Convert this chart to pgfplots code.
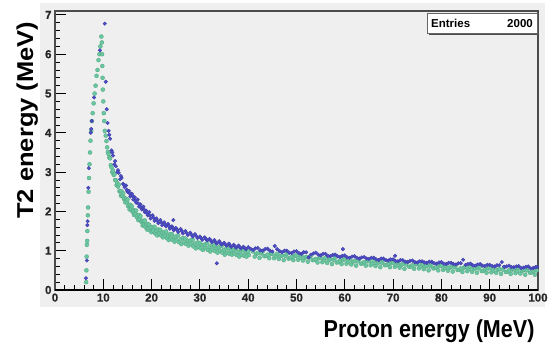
\documentclass[border=0pt]{standalone}
\usepackage{pgfplots}
\pgfplotsset{compat=1.18}
\usepackage{pgfplotstable}
\usepackage{fontspec}
\setmainfont{Liberation Sans}
\newfontfamily\tickfont{Liberation Sans Bold}[FakeBold=0.8]
\definecolor{panelgray}{RGB}{239,239,239}
\definecolor{bluept}{RGB}{78,78,205}
\definecolor{greenpt}{RGB}{105,200,160}

\pgfplotstableread[row sep=\\]{
x y\\
6.4 0.3\\ 6.6 0.75\\ 6.7 1.65\\ 6.75 1.75\\ 6.9 2.6\\ 7.0 3.1\\ 7.4 4.0\\ 7.5 4.1\\ 7.6 4.3\\ 8.1 4.9\\ 9.3 6.1\\
10.3 6.78\\ 10.5 5.3\\ 10.7 4.6\\ 10.9 4.25\\ 11.1 4.05\\ 11.4 3.85\\ 11.7 3.55\\ 12.0 3.42\\ 12.3 3.2\\ 12.6 3.15\\
12.9 3.0\\ 13.2 2.98\\ 13.5 2.82\\ 13.8 2.85\\ 14.1 2.7\\ 14.4 2.62\\ 14.7 2.66\\ 15.0 2.5\\ 15.3 2.52\\ 15.6 2.38\\
15.9 2.45\\ 16.2 2.3\\ 16.5 2.36\\ 16.8 2.22\\ 17.1 2.3\\ 17.4 2.12\\ 17.7 2.18\\ 18.0 2.05\\ 18.3 2.12\\ 18.6 1.98\\
18.9 2.02\\ 19.2 1.9\\ 19.5 1.98\\ 19.8 1.82\\ 20.2 1.9\\ 20.6 1.76\\ 21.0 1.82\\ 21.4 1.7\\ 21.8 1.78\\ 22.2 1.65\\
22.6 1.72\\ 23.0 1.62\\ 23.4 1.68\\ 23.8 1.56\\ 24.2 1.62\\ 24.6 1.52\\ 25.0 1.58\\ 25.5 1.48\\ 26.0 1.55\\ 26.5 1.44\\
27.0 1.5\\ 27.5 1.4\\ 28.0 1.46\\ 28.5 1.36\\ 29.0 1.42\\ 29.5 1.32\\ 30.0 1.36\\ 30.5 1.28\\ 31.0 1.34\\ 31.5 1.26\\
32.0 1.3\\ 32.5 1.22\\ 33.0 1.27\\ 33.5 1.18\\ 34.0 1.24\\ 34.5 1.16\\ 35.0 1.2\\ 35.5 1.13\\ 36.0 1.18\\ 36.5 1.1\\
37.0 1.15\\ 37.5 1.08\\ 38.0 1.13\\ 38.5 1.06\\ 39.0 1.1\\ 39.5 1.04\\ 40.0 1.09\\ 41 1.02\\ 42 1.07\\ 43 1.0\\
44 1.05\\ 45 0.98\\ 46 1.04\\ 47 0.96\\ 48 1.0\\ 49 0.94\\ 50 0.99\\ 51 0.92\\ 52 0.96\\ 53 0.9\\
54 0.95\\ 55 0.88\\ 56 0.92\\ 57 0.86\\ 58 0.9\\ 59 0.84\\ 60 0.88\\ 61 0.82\\ 62 0.86\\ 63 0.8\\
64 0.84\\ 65 0.79\\ 66 0.82\\ 67 0.76\\ 68 0.8\\ 69 0.75\\ 70 0.78\\ 71 0.73\\ 72 0.76\\ 73 0.71\\
74 0.75\\ 75 0.7\\ 76 0.73\\ 77 0.69\\ 78 0.72\\ 79 0.67\\ 80 0.71\\ 81 0.66\\ 82 0.69\\ 83 0.65\\
84 0.68\\ 85 0.64\\ 86 0.67\\ 87 0.62\\ 88 0.66\\ 89 0.61\\ 90 0.64\\ 91 0.6\\ 92 0.63\\ 93 0.59\\
94 0.62\\ 95 0.58\\ 96 0.61\\ 97 0.57\\ 98 0.6\\ 99 0.56\\ 99.8 0.59\\
33.5 0.68\\ 59.6 1.04\\ 70.4 0.87\\ 45.5 1.12\\ 24.5 1.78\\ 84.5 0.77\\ 52.5 0.83\\ 92.5 0.71\\
11.25 3.95\\ 11.85 3.5\\ 12.45 3.28\\ 13.05 3.05\\ 13.65 2.9\\ 14.25 2.68\\ 14.85 2.55\\ 15.45 2.46\\ 16.05 2.4\\ 16.65 2.28\\
17.25 2.2\\ 17.85 2.1\\ 18.45 2.05\\ 19.05 1.95\\ 19.65 1.9\\ 20.4 1.84\\ 21.2 1.76\\ 22.0 1.72\\ 22.8 1.66\\ 23.6 1.63\\
24.4 1.57\\ 25.25 1.54\\ 26.25 1.5\\ 27.25 1.45\\ 28.25 1.41\\ 29.25 1.37\\ 30.25 1.32\\ 31.25 1.3\\ 32.25 1.26\\ 33.25 1.22\\
34.25 1.19\\ 35.25 1.16\\ 36.25 1.13\\ 37.25 1.11\\ 38.25 1.09\\ 39.25 1.07\\
40.5 1.05\\ 41.5 1.06\\ 42.5 1.01\\ 43.5 1.04\\ 44.5 1.0\\ 46.5 0.99\\ 47.5 1.0\\ 48.5 0.95\\ 49.5 0.98\\ 50.5 0.94\\
51.5 0.96\\ 53.5 0.93\\ 54.5 0.9\\ 55.5 0.92\\ 56.5 0.87\\ 57.5 0.89\\ 58.5 0.86\\ 59.5 0.87\\ 60.5 0.83\\ 61.5 0.85\\
62.5 0.82\\ 63.5 0.83\\ 64.5 0.8\\ 65.5 0.82\\ 66.5 0.78\\ 67.5 0.8\\ 68.5 0.76\\ 69.5 0.78\\ 70.5 0.74\\ 71.5 0.76\\
72.5 0.72\\ 73.5 0.74\\ 74.5 0.71\\ 75.5 0.73\\ 76.5 0.7\\ 77.5 0.72\\ 78.5 0.68\\ 79.5 0.7\\ 80.5 0.67\\ 81.5 0.69\\
82.5 0.66\\ 83.5 0.68\\ 85.5 0.66\\ 86.5 0.63\\ 87.5 0.65\\ 88.5 0.62\\ 89.5 0.64\\ 90.5 0.61\\ 91.5 0.63\\ 93.5 0.6\\
94.5 0.58\\ 95.5 0.6\\ 96.5 0.56\\ 97.5 0.59\\ 98.5 0.55\\ 99.5 0.58\\
}\bluedata

\pgfplotstableread[row sep=\\]{
x y\\
6.45 0.2\\ 6.5 0.5\\ 6.55 0.85\\ 6.6 1.15\\ 6.65 1.25\\ 6.7 1.5\\ 6.8 1.9\\ 6.85 2.1\\ 6.95 2.5\\ 7.05 2.85\\
7.15 3.2\\ 7.25 3.5\\ 7.35 3.8\\ 7.5 4.05\\ 7.65 4.3\\ 7.8 4.5\\ 8.0 4.75\\ 8.2 5.0\\ 8.4 5.2\\ 8.6 5.45\\
8.8 5.6\\ 9.0 5.85\\ 9.2 6.0\\ 9.4 6.2\\ 9.6 6.45\\ 9.7 6.3\\ 9.75 6.0\\ 9.8 5.7\\ 9.85 5.4\\ 9.9 5.1\\
10.0 4.8\\ 10.1 4.5\\ 10.2 4.3\\ 10.3 4.05\\
10.5 3.93\\ 10.65 3.79\\ 10.8 3.63\\ 10.95 3.51\\ 11.1 3.46\\ 11.25 3.37\\ 11.4 3.35\\ 11.55 3.18\\ 11.7 3.12\\ 11.85 3.0\\
12.0 3.04\\ 12.15 2.93\\ 12.3 2.94\\ 12.45 2.8\\ 12.6 2.79\\ 12.75 2.67\\ 12.9 2.72\\ 13.05 2.63\\ 13.2 2.68\\ 13.35 2.51\\
13.5 2.52\\ 13.65 2.4\\ 13.8 2.51\\ 13.95 2.4\\ 14.1 2.46\\ 14.25 2.32\\ 14.4 2.35\\ 14.55 2.23\\ 14.7 2.32\\ 14.85 2.23\\
15.0 2.3\\ 15.15 2.13\\ 15.3 2.17\\ 15.45 2.05\\ 15.6 2.17\\ 15.75 2.06\\ 15.9 2.13\\ 16.05 1.99\\ 16.2 2.03\\ 16.35 1.91\\
16.5 2.02\\ 16.65 1.93\\ 16.8 2.02\\ 16.95 1.85\\ 17.1 1.9\\ 17.25 1.78\\ 17.4 1.91\\ 17.55 1.8\\ 17.7 1.88\\ 17.85 1.74\\
18.0 1.76\\ 18.15 1.64\\ 18.3 1.76\\ 18.45 1.67\\ 18.6 1.77\\ 18.75 1.6\\ 18.9 1.66\\ 19.05 1.54\\ 19.2 1.68\\ 19.35 1.57\\
19.5 1.66\\ 19.65 1.52\\ 19.8 1.59\\ 19.95 1.47\\ 20.2 1.6\\ 20.35 1.51\\ 20.6 1.61\\ 20.75 1.44\\ 21.0 1.51\\ 21.15 1.39\\
21.4 1.54\\ 21.55 1.43\\ 21.8 1.53\\ 21.95 1.39\\ 22.2 1.46\\ 22.35 1.34\\ 22.6 1.47\\ 22.75 1.38\\ 23.0 1.49\\ 23.15 1.32\\
23.4 1.39\\ 23.55 1.27\\ 23.8 1.42\\ 23.95 1.31\\ 24.2 1.42\\ 24.35 1.28\\ 24.6 1.35\\ 24.75 1.23\\ 25.0 1.36\\ 25.15 1.27\\
25.5 1.39\\ 25.65 1.22\\ 26.0 1.29\\ 26.15 1.17\\ 26.5 1.32\\ 26.65 1.21\\ 27.0 1.31\\ 27.15 1.17\\ 27.5 1.25\\ 27.65 1.13\\
28.0 1.26\\ 28.15 1.17\\ 28.5 1.28\\ 28.65 1.11\\ 29.0 1.18\\ 29.15 1.06\\ 29.5 1.21\\ 29.65 1.1\\ 30.0 1.2\\ 30.15 1.06\\
30.5 1.14\\ 30.65 1.02\\ 31.0 1.16\\ 31.15 1.07\\ 31.5 1.19\\ 31.65 1.02\\ 32.0 1.1\\ 32.15 0.98\\ 32.5 1.14\\ 32.65 1.03\\
33.0 1.13\\ 33.15 0.99\\ 33.5 1.07\\ 33.65 0.95\\ 34.0 1.09\\ 34.15 1.0\\ 34.5 1.12\\ 34.65 0.95\\ 35.0 1.02\\ 35.15 0.9\\
35.5 1.06\\ 35.65 0.95\\ 36.0 1.06\\ 36.15 0.92\\ 36.5 1.0\\ 36.65 0.9\\ 37.0 1.02\\ 37.15 0.93\\ 37.5 1.05\\ 37.65 0.89\\
38.0 0.97\\ 38.15 0.85\\ 38.5 1.01\\ 38.65 0.9\\ 39.0 1.01\\ 39.15 0.87\\ 39.5 0.96\\ 39.65 0.85\\ 40.0 0.98\\ 40.15 0.89\\
41 .98\\ 41.35 .85\\ 41.7 .92\\ 42 .94\\ 42.35 .82\\ 42.7 .93\\ 43 .98\\ 43.35 .86\\ 43.7 .87\\
44 .90\\ 44.35 .81\\ 44.7 .92\\ 45 .92\\ 45.35 .81\\ 45.7 .86\\ 46 .92\\ 46.35 .79\\ 46.7 .86\\
47 .88\\ 47.35 .76\\ 47.7 .87\\ 48 .92\\ 48.35 .80\\ 48.7 .81\\ 49 .85\\ 49.35 .76\\ 49.7 .87\\
50 .88\\ 50.35 .77\\ 50.7 .82\\ 51 .88\\ 51.35 .75\\ 51.7 .82\\ 52 .84\\ 52.35 .72\\ 52.7 .83\\
53 .88\\ 53.35 .76\\ 53.7 .77\\ 54 .79\\ 54.35 .70\\ 54.7 .81\\ 55 .82\\ 55.35 .71\\ 55.7 .76\\
56 .82\\ 56.35 .69\\ 56.7 .76\\ 57 .78\\ 57.35 .66\\ 57.7 .77\\ 58 .82\\ 58.35 .70\\ 58.7 .71\\
59 .75\\ 59.35 .66\\ 59.7 .77\\ 60 .78\\ 60.35 .67\\ 60.7 .72\\ 61 .78\\ 61.35 .65\\ 61.7 .72\\
62 .74\\ 62.35 .62\\ 62.7 .73\\ 63 .79\\ 63.35 .67\\ 63.7 .68\\ 64 .71\\ 64.35 .62\\ 64.7 .73\\
65 .74\\ 65.35 .63\\ 65.7 .68\\ 66 .74\\ 66.35 .61\\ 66.7 .68\\ 67 .70\\ 67.35 .58\\ 67.7 .69\\
68 .75\\ 68.35 .63\\ 68.7 .64\\ 69 .67\\ 69.35 .58\\ 69.7 .69\\ 70 .70\\ 70.35 .59\\ 70.7 .64\\
71 .70\\ 71.35 .57\\ 71.7 .64\\ 72 .66\\ 72.35 .54\\ 72.7 .65\\ 73 .71\\ 73.35 .59\\ 73.7 .60\\
74 .63\\ 74.35 .54\\ 74.7 .65\\ 75 .66\\ 75.35 .55\\ 75.7 .60\\ 76 .66\\ 76.35 .53\\ 76.7 .60\\
77 .62\\ 77.35 .50\\ 77.7 .61\\ 78 .67\\ 78.35 .55\\ 78.7 .56\\ 79 .59\\ 79.35 .50\\ 79.7 .61\\
80 .62\\ 80.35 .51\\ 80.7 .56\\ 81 .62\\ 81.35 .49\\ 81.7 .56\\ 82 .59\\ 82.35 .47\\ 82.7 .58\\
83 .63\\ 83.35 .51\\ 83.7 .52\\ 84 .55\\ 84.35 .46\\ 84.7 .57\\ 85 .59\\ 85.35 .48\\ 85.7 .53\\
86 .59\\ 86.35 .46\\ 86.7 .53\\ 87 .56\\ 87.35 .44\\ 87.7 .55\\ 88 .60\\ 88.35 .48\\ 88.7 .49\\
89 .53\\ 89.35 .44\\ 89.7 .55\\ 90 .56\\ 90.35 .45\\ 90.7 .50\\ 91 .57\\ 91.35 .44\\ 91.7 .51\\
92 .53\\ 92.35 .41\\ 92.7 .52\\ 93 .58\\ 93.35 .46\\ 93.7 .47\\ 94 .50\\ 94.35 .41\\ 94.7 .52\\
95 .54\\ 95.35 .43\\ 95.7 .48\\ 96 .55\\ 96.35 .42\\ 96.7 .49\\ 97 .51\\ 97.35 .39\\ 97.7 .50\\
98 .56\\ 98.35 .44\\ 98.7 .45\\ 99 .48\\ 99.35 .39\\ 99.7 .50\\
}\greendata

\begin{document}
\begin{tikzpicture}
\path[use as bounding box] (-55pt,-59pt) rectangle (500pt,290pt);
\fill[panelgray] (-15pt,-17pt) rectangle (490pt,287pt);
\begin{axis}[
  scale only axis,
  width=483pt, height=279pt,
  xmin=0, xmax=100, ymin=0, ymax=7.1,
  xtick={0,10,...,100}, ytick={0,1,...,7},
  minor x tick num=4, minor y tick num=4,
  tick align=inside,
  xtick pos=bottom, ytick pos=left,
  major tick length=11pt, minor tick length=5pt,
  tick style={black, line width=0.9pt},
  axis background/.style={fill=panelgray},
  axis line style={draw=black!70, line width=1.1pt},
  /pgf/number format/assume math mode=true,
  ticklabel style={font=\tickfont\fontsize{11.5}{13}\selectfont, text=black!85},
  xlabel={\scalebox{0.88}[1]{Proton energy (MeV)}},
  ylabel={\scalebox{1}[0.9]{T2 energy (MeV)}},
  every axis x label/.style={at={(axis description cs:1,0)}, anchor=base east, yshift=-47pt,
     font=\fontsize{24.5}{28}\selectfont\bfseries},
  every axis y label/.style={at={(axis description cs:-0.0455,0.609)}, rotate=90, anchor=base,
     font=\fontsize{25.5}{28}\selectfont\bfseries},
  clip=true,
]
\addplot[only marks, mark=*, mark size=2.0pt, color=greenpt, mark options={draw=greenpt!85!black, fill=greenpt}] table[x=x,y=y] {\greendata};
\addplot[only marks, mark=*, mark size=1.8pt, color=bluept, mark options={draw=bluept!80!black, fill=bluept}] table[x=x,y=y] {\bluedata};
\end{axis}
\draw[black, line width=1.6pt] (0,0) -- (483pt,0);
% statistics box
\fill[black!70] (374pt,255pt) rectangle (484pt,275pt);
\filldraw[fill=white, draw=black!60, line width=0.6pt] (372pt,257pt) rectangle (482pt,277pt);
\node[anchor=base west, font=\fontsize{11.5}{13}\selectfont\bfseries, inner sep=0pt] at (376pt,263pt) {Entries};
\node[anchor=base east, font=\fontsize{11.5}{13}\selectfont\bfseries, inner sep=0pt] at (478pt,263pt) {2000};
\end{tikzpicture}
\end{document}
